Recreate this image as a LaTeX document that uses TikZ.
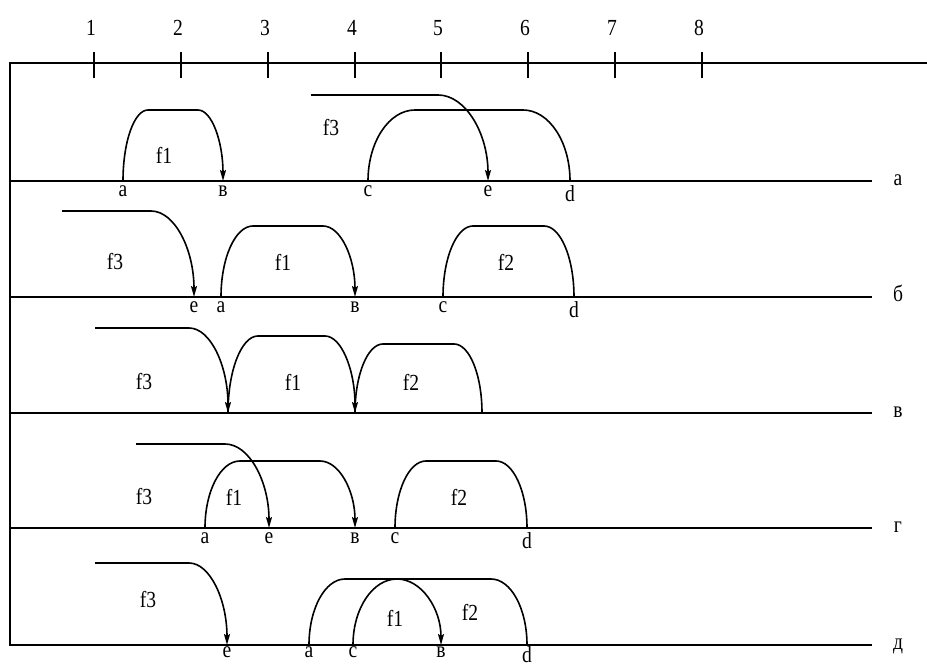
\documentclass[tikz,border=0pt]{standalone}
\usepackage{fontspec}
\setmainfont{Liberation Serif}[FakeStretch=0.85]
\usetikzlibrary{arrows.meta,calc}
\tikzset{
  fx/.style={x=1pt, y=1pt, line width=1.6pt, font=\fontsize{23}{23}\selectfont},
  t num/.style={inner sep=1pt},
  t fn/.style={inner sep=1pt},
  t row/.style={anchor=base, inner sep=0pt},
  t lbl/.style={inner sep=1pt},
  t pt/.style={label={[t lbl, label distance=3pt]below:#1}},
  t pt low/.style={label={[t lbl, label distance=0pt]below:#1}},
  t arr/.style={-{Stealth[length=11pt, width=6pt, inset=2pt]}},
  t hump/.style 2 args={to path={(\tikztostart) arc[start angle=180, end angle=90, x radius=#2, y radius=#1]
    -- ($(\tikztotarget)+(-#2,#1)$) arc[start angle=90, end angle=0, x radius=#2, y radius=#1]}},
  t drop/.style={to path={let \p1=(\tikztostart), \p2=(\tikztotarget) in
    (\p1) -- (\x2-#1pt,\y1) arc[start angle=90, end angle=0, x radius=#1pt, y radius=\y1-\y2]}},
}

\begin{document}
\begin{tikzpicture}[fx]
\useasboundingbox (0,0) rectangle (927,668);
% scale on top
\draw (927,605) -- (10,605) -- (10,23) -- (872,23);
\foreach \i/\x in {1/94,2/181,3/268,4/355,5/441,6/528,7/615,8/702}{
  \draw (\x,590) -- (\x,616);
  \node[t num] (n\i) at (\x-3,640) {\i};
}
% row a
\draw (10,487) -- (872,487);
\node[t row] (ra) at (898,482) {а};
\coordinate[t pt=a] (a1) at (123,487);
\coordinate[t pt=в] (v1) at (223,487);
\coordinate[t pt=c] (c1) at (368,487);
\coordinate[t pt=e] (e1) at (488,487);
\coordinate[t pt=d] (d1) at (570,487);
\coordinate (s1) at (311,573);
\draw[t arr] (a1) to[t hump={71}{25}] (v1);
\draw (c1) to[t hump={71}{47}] (d1);
\draw[t arr] (s1) to[t drop=50] (e1);
\node[t fn] (f1a) at (164,513) {f1};
\node[t fn] (f3a) at (331,540) {f3};
% row b
\draw (10,371) -- (872,371);
\node[t row] (rb) at (898,366) {б};
\coordinate[t pt=e] (e2) at (194,371);
\coordinate[t pt=a] (a2) at (221,371);
\coordinate[t pt=в] (v2) at (355,371);
\coordinate[t pt=c] (c2) at (443,371);
\coordinate[t pt=d] (d2) at (574,371);
\coordinate (s2) at (62,457);
\draw[t arr] (s2) to[t drop=43] (e2);
\draw[t arr] (a2) to[t hump={71}{32}] (v2);
\draw (c2) to[t hump={71}{30}] (d2);
\node[t fn] (f3b) at (115,406) {f3};
\node[t fn] (f1b) at (283,406) {f1};
\node[t fn] (f2b) at (506,406) {f2};
% row v
\draw (10,255) -- (872,255);
\node[t row] (rv) at (898,250) {в};
\coordinate (p3) at (228,255);
\coordinate (q3) at (355,255);
\coordinate (r3) at (482,255);
\coordinate (s3) at (95,340);
\draw[t arr] (s3) to[t drop=39] (p3);
\draw[t arr] (p3) to[t hump={77}{30}] (q3);
\draw (q3) to[t hump={69}{28}] (r3);
\node[t fn] (f3v) at (144,286) {f3};
\node[t fn] (f1v) at (293,286) {f1};
\node[t fn] (f2v) at (411,286) {f2};
% row g
\draw (10,140) -- (872,140);
\node[t row] (rg) at (898,135) {г};
\coordinate[t pt=a] (a4) at (205,140);
\coordinate[t pt=e] (e4) at (269,140);
\coordinate[t pt=в] (v4) at (355,140);
\coordinate[t pt=c] (c4) at (395,140);
\coordinate[t pt=d] (d4) at (527,140);
\coordinate (s4) at (136,224);
\draw[t arr] (s4) to[t drop=44] (e4);
\draw[t arr] (a4) to[t hump={67}{35}] (v4);
\draw (c4) to[t hump={67}{31}] (d4);
\node[t fn] (f3g) at (144,171) {f3};
\node[t fn] (f1g) at (234,171) {f1};
\node[t fn] (f2g) at (459,171) {f2};
% row d
\node[t row] (rd) at (898,18) {д};
\coordinate[t pt low=e] (e5) at (227,23);
\coordinate[t pt low=a] (a5) at (309,23);
\coordinate[t pt low=c] (c5) at (353,23);
\coordinate[t pt low=в] (v5) at (441,23);
\coordinate[t pt low=d] (d5) at (527,23);
\coordinate (s5) at (95,105);
\draw[t arr] (s5) to[t drop=38] (e5);
\draw (a5) to[t hump={66}{36}] (d5);
\draw[t arr] (c5) to[t hump={66}{44}] (v5);
\node[t fn] (f3d) at (148,68) {f3};
\node[t fn] (f1d) at (395,50) {f1};
\node[t fn] (f2d) at (470,56) {f2};
\end{tikzpicture}
\end{document}
